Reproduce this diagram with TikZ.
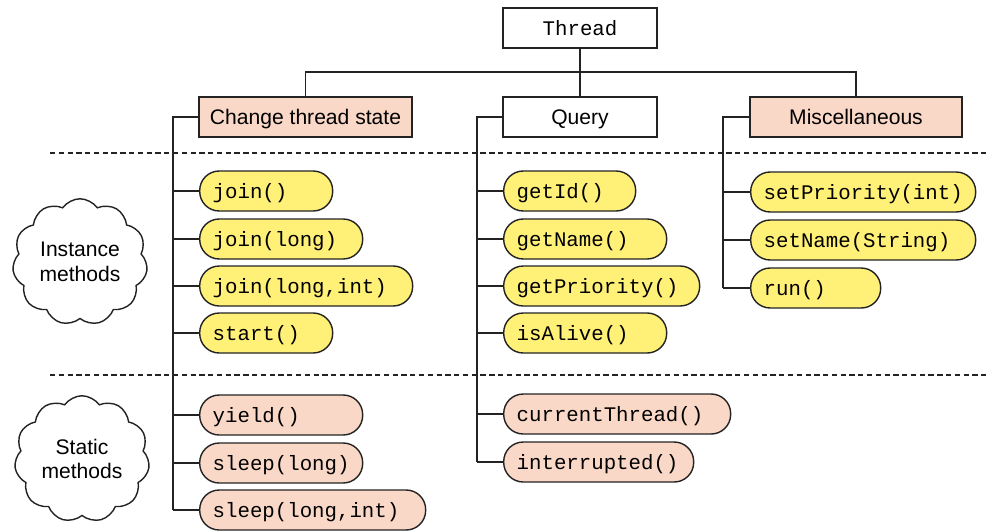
\documentclass[tikz,border=0pt]{standalone}
\usepackage{fontspec}
\setmainfont{Liberation Sans}
\newfontfamily\codefont{Liberation Mono}
\usetikzlibrary{shapes.symbols}

\definecolor{pillyellow}{RGB}{255,240,120}
\definecolor{salmon}{RGB}{250,216,200}
\definecolor{linegray}{RGB}{35,35,35}

\begin{document}
\begin{tikzpicture}[x=0.02cm, y=-0.02cm, line width=0.8pt, draw=linegray,
	every node/.style={font=\fontsize{12}{14}\selectfont},
	catbox/.style={draw=linegray, rectangle, minimum height=0.8cm, inner sep=0pt, text height=2ex, text depth=0.45ex},
	pill/.style={draw=linegray, rectangle, rounded corners=0.39cm, minimum height=0.8cm, inner xsep=0.26cm, inner ysep=0pt, text height=2ex, text depth=0.45ex, text width=#1, align=left, anchor=west, font=\codefont\fontsize{11.8}{14}\selectfont},
	puff/.style={draw=linegray, cloud, cloud puffs=11, cloud puff arc=110, minimum width=2.7cm, minimum height=1.8cm, inner sep=0pt, align=center}]
	\useasboundingbox (0,0) rectangle (990,531);
	% class and categories
	\node[catbox, minimum width=3.08cm, font=\codefont\fontsize{11.8}{14}\selectfont] (thread) at (580,28) {Thread};
	\node[catbox, fill=salmon, minimum width=4.26cm] (change) at (305.5,117) {Change thread state};
	\node[catbox, minimum width=3.08cm] (query) at (580,117) {Query};
	\node[catbox, fill=salmon, minimum width=4.24cm] (misc) at (856,117) {Miscellaneous};
	\coordinate (bar) at (580,72);
	\draw[linegray] (change.north) |- (bar) -| (misc.north);
	\draw[linegray] (thread.south) -- (query.north);
	% separators
	\coordinate (sepAl) at (50,153);
	\coordinate (sepAr) at (990,153);
	\coordinate (sepBl) at (50,375);
	\coordinate (sepBr) at (990,375);
	\draw[linegray, line width=0.6pt, dash pattern=on 3pt off 2pt] (sepAl) -- (sepAr);
	\draw[linegray, line width=0.6pt, dash pattern=on 3pt off 2pt] (sepBl) -- (sepBr);
	% clouds
	\node[puff] (instance) at (80,262) {Instance\\methods};
	\node[puff] (static) at (82,459) {Static\\methods};
	% change thread state
	\coordinate (trunkA) at (173,117);
	\foreach \n/\y/\w/\f/\t in {join1/191/2.14/pillyellow/join(), join2/239/2.74/pillyellow/join(long), join3/286/3.74/pillyellow/{join(long,int)}, start/333/2.14/pillyellow/start(), yield/415/2.74/salmon/yield(), sleep1/463/2.74/salmon/sleep(long), sleep2/510/4.00/salmon/{sleep(long,int)}} {
		\node[pill=\w cm, fill=\f] (\n) at (199,\y) {\t};
		\draw[linegray] (trunkA |- \n.west) -- (\n.west);
	}
	\draw[linegray] (change.west) -| (trunkA |- sleep2.west);
	% query
	\coordinate (trunkB) at (477,117);
	\foreach \n/\y/\w/\f/\t in {getid/191/2.12/pillyellow/getId(), getname/239/2.74/pillyellow/getName(), getprio/286/3.40/pillyellow/getPriority(), alive/333/2.74/pillyellow/isAlive(), current/414/4.02/salmon/currentThread(), interr/462/3.28/salmon/interrupted()} {
		\node[pill=\w cm, fill=\f] (\n) at (503,\y) {\t};
		\draw[linegray] (trunkB |- \n.west) -- (\n.west);
	}
	\draw[linegray] (query.west) -| (trunkB |- interr.west);
	% miscellaneous
	\coordinate (trunkC) at (723,117);
	\foreach \n/\y/\w/\f/\t in {setprio/192/3.98/pillyellow/setPriority(int), setname/240/3.98/pillyellow/setName(String), run/288/2.08/pillyellow/run()} {
		\node[pill=\w cm, fill=\f] (\n) at (750,\y) {\t};
		\draw[linegray] (trunkC |- \n.west) -- (\n.west);
	}
	\draw[linegray] (misc.west) -| (trunkC |- run.west);
\end{tikzpicture}
\end{document}
